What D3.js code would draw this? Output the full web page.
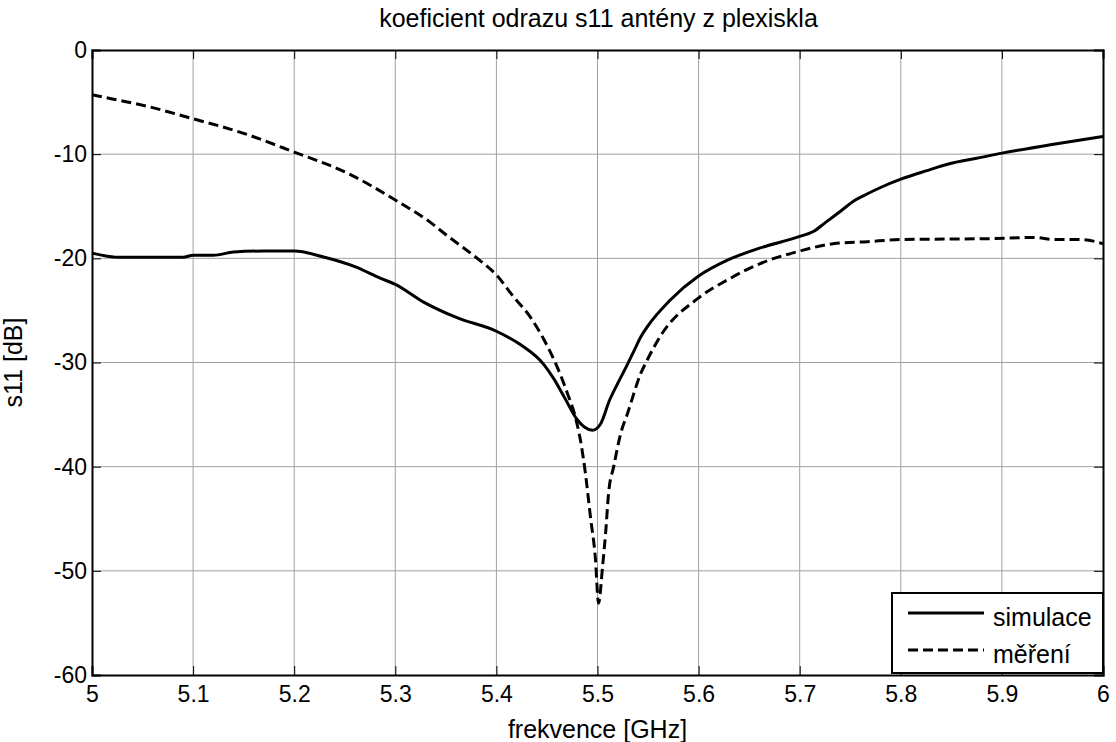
<!DOCTYPE html>
<html>
<head>
<meta charset="utf-8">
<script src="https://cdn.jsdelivr.net/npm/d3@7"></script>
<style>
  body { margin: 0; background: #fff; }
  text { font-family: "Liberation Sans", Arial, sans-serif; fill: #000; }
</style>
</head>
<body>
<script>

// frequency axis (GHz) and s11 (dB)
const simFreq = [5.000, 5.026, 5.05, 5.09, 5.10, 5.12, 5.14, 5.17, 5.20, 5.23, 5.26, 5.285, 5.30, 5.328,
    5.361, 5.40, 5.424, 5.447, 5.457, 5.467, 5.48, 5.487, 5.495, 5.503, 5.512, 5.52, 5.529, 5.536, 5.543,
    5.549, 5.572, 5.60, 5.628, 5.661, 5.70, 5.714, 5.725, 5.74, 5.755, 5.767, 5.78, 5.80, 5.825, 5.849,
    5.875, 5.90, 5.948, 6.00];
const simS11 = [-19.5, -19.9, -19.9, -19.9, -19.7, -19.7, -19.4, -19.3, -19.3, -19.9, -20.8, -21.9, -22.5, -24.2,
    -25.7, -27.0, -28.3, -30.2, -31.6, -33.3, -35.5, -36.2, -36.5, -35.9, -33.6, -32.0, -30.3, -28.9, -27.5,
    -26.6, -24.0, -21.7, -20.2, -19.0, -17.9, -17.4, -16.6, -15.5, -14.4, -13.8, -13.2, -12.4, -11.6, -10.9,
    -10.4, -9.9, -9.1, -8.3];

const measFreq = [5.000, 5.02, 5.05, 5.10, 5.15, 5.20, 5.25, 5.30, 5.334, 5.351, 5.381, 5.40, 5.417, 5.434,
    5.447, 5.46, 5.47, 5.478, 5.483, 5.488, 5.493, 5.498, 5.501, 5.505, 5.508, 5.511, 5.516, 5.523,
    5.53, 5.543, 5.549, 5.562, 5.60, 5.628, 5.661, 5.70, 5.733, 5.767, 5.80, 5.892, 5.932, 5.952, 5.979, 6.00];
const measS11 = [-4.3, -4.7, -5.3, -6.6, -8.0, -9.8, -11.7, -14.4, -16.5, -17.8, -20.0, -21.6, -23.7, -25.7,
    -27.8, -30.4, -32.9, -35.2, -37.4, -40.6, -44.8, -48.9, -53.1, -49.6, -46.4, -42.5, -40.0, -36.8,
    -34.8, -31.0, -29.8, -27.5, -23.8, -22.1, -20.5, -19.3, -18.6, -18.4, -18.2, -18.1, -18.0, -18.2, -18.2, -18.6];

const xTicks = [5, 5.1, 5.2, 5.3, 5.4, 5.5, 5.6, 5.7, 5.8, 5.9, 6];
const yTicks = [0, -10, -20, -30, -40, -50, -60];
const seriesNames = ["simulace", "měření"];

const width = 1116, height = 742;
const plotL = 92, plotR = 1103, plotT = 50, plotB = 675;

const svg = d3.select("body")
    .append("svg")
    .attr("width", width)
    .attr("height", height);

const x = d3.scaleLinear().domain([5, 6]).range([plotL, plotR]);
const y = d3.scaleLinear().domain([-60, 0]).range([plotB, plotT]);

// grid
svg.append("g")
    .selectAll("line")
    .data(xTicks.slice(1, -1))
    .enter()
    .append("line")
    .attr("x1", d => x(d)).attr("x2", d => x(d))
    .attr("y1", plotT).attr("y2", plotB)
    .attr("stroke", "#a0a0a0")
    .attr("stroke-width", 1);

svg.append("g")
    .selectAll("line")
    .data(yTicks.slice(1, -1))
    .enter()
    .append("line")
    .attr("x1", plotL).attr("x2", plotR)
    .attr("y1", d => y(d)).attr("y2", d => y(d))
    .attr("stroke", "#a0a0a0")
    .attr("stroke-width", 1);

// axes with inward ticks on all four sides
const tickLen = 9;
const xAxisB = svg.append("g")
    .attr("transform", `translate(0,${plotB})`)
    .call(d3.axisBottom(x).tickValues(xTicks).tickSize(-tickLen).tickPadding(11).tickFormat(d => String(d)));
const xAxisT = svg.append("g")
    .attr("transform", `translate(0,${plotT})`)
    .call(d3.axisTop(x).tickValues(xTicks).tickSize(-tickLen).tickFormat(""));
const yAxisL = svg.append("g")
    .attr("transform", `translate(${plotL},0)`)
    .call(d3.axisLeft(y).tickValues(yTicks).tickSize(-tickLen).tickPadding(5).tickFormat(d => String(d)));
const yAxisR = svg.append("g")
    .attr("transform", `translate(${plotR},0)`)
    .call(d3.axisRight(y).tickValues(yTicks).tickSize(-tickLen).tickFormat(""));

[xAxisB, xAxisT, yAxisL, yAxisR].forEach(g => {
    g.select(".domain").attr("stroke", "#000").attr("stroke-width", 2);
    g.selectAll(".tick line").attr("stroke", "#000").attr("stroke-width", 1);
    g.selectAll(".tick text")
        .style("font-family", '"Liberation Sans", Arial, sans-serif')
        .style("font-size", "23px")
        .attr("fill", "#000");
});

// curves
const line = d3.line()
    .x(d => x(d[0]))
    .y(d => y(d[1]))
    .curve(d3.curveMonotoneX);

svg.append("path")
    .datum(simFreq.map((f, i) => [f, simS11[i]]))
    .attr("d", line)
    .attr("fill", "none")
    .attr("stroke", "#000")
    .attr("stroke-width", 3);

svg.append("path")
    .datum(measFreq.map((f, i) => [f, measS11[i]]))
    .attr("d", line)
    .attr("fill", "none")
    .attr("stroke", "#000")
    .attr("stroke-width", 3)
    .attr("stroke-dasharray", "10,5");

// titles
svg.append("text")
    .text("koeficient odrazu s11 antény z plexiskla")
    .attr("x", (plotL + plotR) / 2 + 1)
    .attr("y", 27)
    .attr("text-anchor", "middle")
    .style("font-size", "25px");

svg.append("text")
    .text("frekvence [GHz]")
    .attr("x", (plotL + plotR) / 2)
    .attr("y", 738)
    .attr("text-anchor", "middle")
    .style("font-size", "25px");

svg.append("text")
    .text("s11 [dB]")
    .attr("transform", `translate(22,${(plotT + plotB) / 2}) rotate(-90)`)
    .attr("text-anchor", "middle")
    .style("font-size", "25px");

// legend
const legend = svg.append("g");
legend.append("rect")
    .attr("x", 892).attr("y", 593)
    .attr("width", 211).attr("height", 80)
    .attr("fill", "#fff")
    .attr("stroke", "#000")
    .attr("stroke-width", 2);

legend.selectAll(".lg")
    .data(seriesNames)
    .enter()
    .append("line")
    .attr("x1", 908).attr("x2", 984)
    .attr("y1", (d, i) => 613 + i * 37)
    .attr("y2", (d, i) => 613 + i * 37)
    .attr("stroke", "#000")
    .attr("stroke-width", 3)
    .attr("stroke-dasharray", (d, i) => i === 0 ? null : "10,5");

legend.selectAll("text")
    .data(seriesNames)
    .enter()
    .append("text")
    .text(d => d)
    .attr("x", 993)
    .attr("y", (d, i) => 626 + i * 37)
    .style("font-size", "25px");

</script>
</body>
</html>
